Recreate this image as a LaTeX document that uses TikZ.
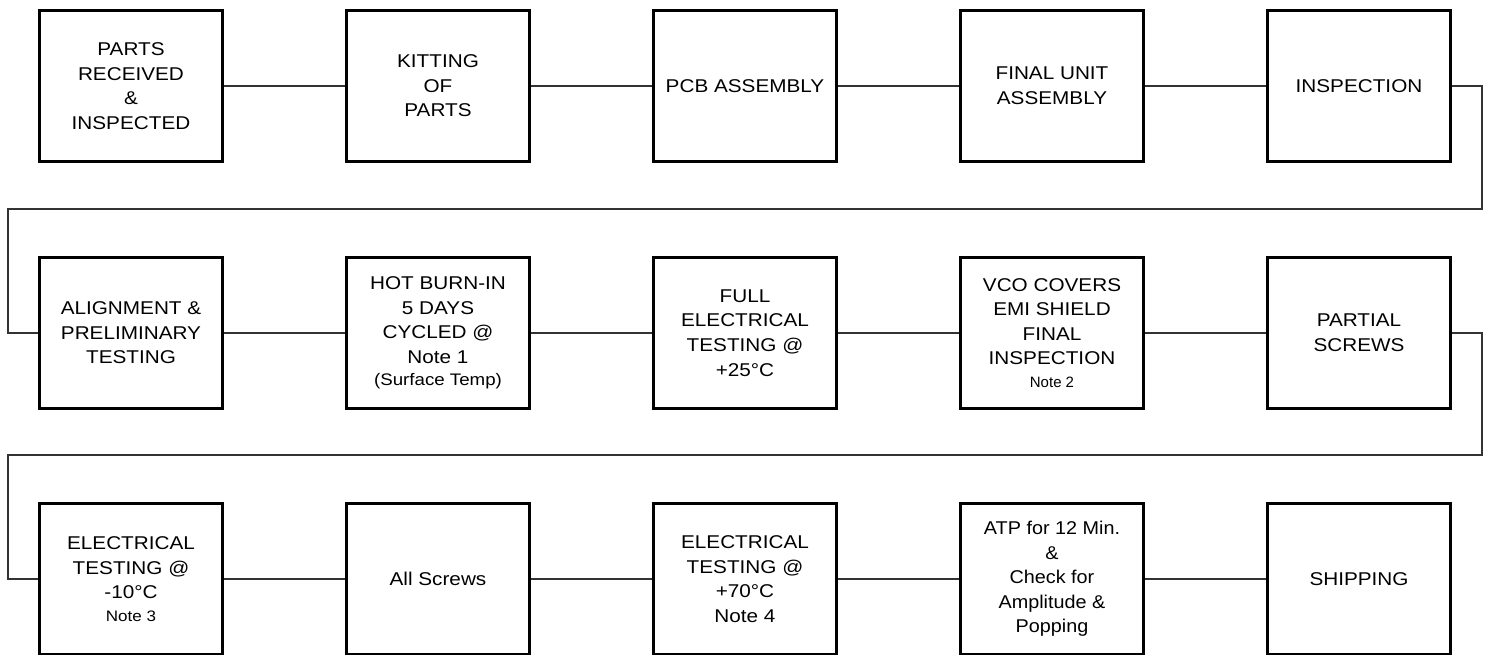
\documentclass[tikz,border=0pt]{standalone}
\usepackage{fontspec}
\setmainfont[FakeStretch=1.12]{Liberation Sans}
\newfontfamily\atpfont[FakeStretch=1.07]{Liberation Sans}
\newfontfamily\plainfont{Liberation Sans}
\begin{document}
\begin{tikzpicture}[x=1pt,y=-1pt,
  stepbox/.style={draw=black,line width=3pt,rectangle,minimum width=183pt,minimum height=151pt,
    inner sep=0pt,align=center,font=\fontsize{18.5}{24.6}\selectfont},
  link/.style={draw=black!80,line width=1.3pt}]
\newcommand{\smalltxt}{\fontsize{15.2}{20}\selectfont}
\useasboundingbox (0,0) rectangle (1486,655);
% row 1
\node[stepbox] (b1) at (131,86) {PARTS\\RECEIVED\\\&\\INSPECTED};
\node[stepbox] (b2) at (438,86) {KITTING\\OF\\PARTS};
\node[stepbox] (b3) at (745,86) {PCB ASSEMBLY};
\node[stepbox] (b4) at (1052,86) {FINAL UNIT\\ASSEMBLY};
\node[stepbox] (b5) at (1359,86) {INSPECTION};
% row 2
\node[stepbox] (b6) at (131,333) {ALIGNMENT \&\\PRELIMINARY\\TESTING};
\node[stepbox] (b7) at (438,333) {HOT BURN-IN\\5 DAYS\\CYCLED @\\Note 1\\[-2pt]{\fontsize{16.7}{20}\selectfont (Surface Temp)}};
\node[stepbox] (b8) at (745,333) {FULL\\ELECTRICAL\\TESTING @\\+25°C};
\node[stepbox] (b9) at (1052,333) {VCO COVERS\\EMI SHIELD\\FINAL\\INSPECTION\\[-2pt]{\plainfont\fontsize{15}{20}\selectfont Note 2}};
\node[stepbox] (b10) at (1359,333) {PARTIAL\\SCREWS};
% row 3
\node[stepbox] (b11) at (131,579) {ELECTRICAL\\TESTING @\\-10°C\\[-2pt]{\smalltxt Note 3}};
\node[stepbox] (b12) at (438,579) {All Screws};
\node[stepbox] (b13) at (745,579) {ELECTRICAL\\TESTING @\\+70°C\\Note 4};
\node[stepbox,font=\atpfont\fontsize{18.5}{24.6}\selectfont] (b14) at (1052,579) {ATP for 12 Min.\\\&\\Check for\\Amplitude \&\\Popping};
\node[stepbox] (b15) at (1359,579) {SHIPPING};
% turn points
\coordinate (r1) at (1482,209);
\coordinate (l1) at (8,209);
\coordinate (r2) at (1482,455);
\coordinate (l2) at (8,455);
% connectors
\draw[link] (b1.east) -- (b2.west);
\draw[link] (b2.east) -- (b3.west);
\draw[link] (b3.east) -- (b4.west);
\draw[link] (b4.east) -- (b5.west);
\draw[link] (b5.east) -| (r1) -- (l1) |- (b6.west);
\draw[link] (b6.east) -- (b7.west);
\draw[link] (b7.east) -- (b8.west);
\draw[link] (b8.east) -- (b9.west);
\draw[link] (b9.east) -- (b10.west);
\draw[link] (b10.east) -| (r2) -- (l2) |- (b11.west);
\draw[link] (b11.east) -- (b12.west);
\draw[link] (b12.east) -- (b13.west);
\draw[link] (b13.east) -- (b14.west);
\draw[link] (b14.east) -- (b15.west);
\end{tikzpicture}
\end{document}
